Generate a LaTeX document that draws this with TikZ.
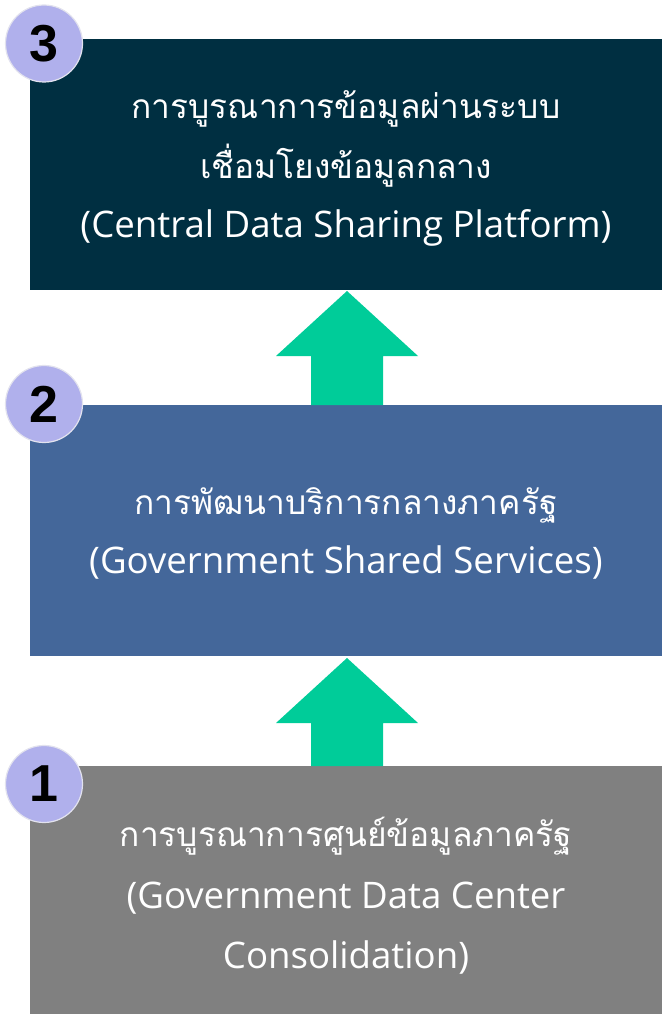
\documentclass[tikz,border=0pt]{standalone}
\usepackage{fontspec}
\newfontfamily\thaifont[Script=Thai]{Loma}
\newfontfamily\latinfont{Open Sans}
\newfontfamily\numfont{Liberation Sans}
\usetikzlibrary{calc}
\definecolor{cthree}{HTML}{002F41}
\definecolor{ctwo}{HTML}{44679A}
\definecolor{cone}{HTML}{808080}
\definecolor{cgreen}{HTML}{00CC99}
\definecolor{ccircle}{HTML}{B0B0EC}
\definecolor{cring}{HTML}{E2E2EE}
\begin{document}
\begin{tikzpicture}[x=1pt,y=-1pt,
  box/.style={draw=none,anchor=north west,minimum width=632pt,minimum height=251pt,inner sep=0pt},
  thaitext/.style={text=white,anchor=base,inner sep=0pt,font=\thaifont\fontsize{33.5}{40}\selectfont},
  lattext/.style={text=white,anchor=base,inner sep=0pt,font=\latinfont\fontsize{36.6}{42}\selectfont},
  badge/.style={circle,fill=ccircle,draw=cring,line width=1.2pt,minimum size=77pt,inner sep=0pt,
    font=\numfont\bfseries\fontsize{52}{52}\selectfont,text=black},
  blockarrow/.style={fill=cgreen,draw=none}]
\useasboundingbox (0,0) rectangle (662,1014);
% boxes
\node[box,fill=cthree,minimum height=251pt] (b3) at (30,39) {};
\node[box,fill=ctwo,minimum height=251pt] (b2) at (30,405) {};
\node[box,fill=cone,minimum height=249pt] (b1) at (30,766) {};
% arrows
\coordinate (a1top) at (347,291);
\coordinate (a2top) at (347,658);
\fill[blockarrow] (a1top) -- ++(71,65) -- ++(-35,0) |- (b2.north) -| ($(a1top)+(-36,65)$) -- ++(-35,0) -- cycle;
\fill[blockarrow] (a2top) -- ++(71,65) -- ++(-35,0) |- (b1.north) -| ($(a2top)+(-36,65)$) -- ++(-35,0) -- cycle;
% texts
\node[thaitext] (t3a) at (346,119) {การบูรณาการข้อมูลผ่านระบบ};
\node[thaitext] (t3b) at (346,178) {เชื่อมโยงข้อมูลกลาง};
\node[lattext] (t3c) at (346,237) {(Central Data Sharing Platform)};
\node[thaitext] (t2a) at (346,514) {การพัฒนาบริการกลางภาครัฐ};
\node[lattext] (t2b) at (346,573) {(Government Shared Services)};
\node[thaitext] (t1a) at (346,846) {การบูรณาการศูนย์ข้อมูลภาครัฐ};
\node[lattext] (t1b) at (346,908) {(Government Data Center};
\node[lattext] (t1c) at (346,968) {Consolidation)};
% badges
\node[badge] (n3) at (44,43.5) {3};
\node[badge] (n2) at (44,404) {2};
\node[badge] (n1) at (44,784) {1};
\end{tikzpicture}
\end{document}
